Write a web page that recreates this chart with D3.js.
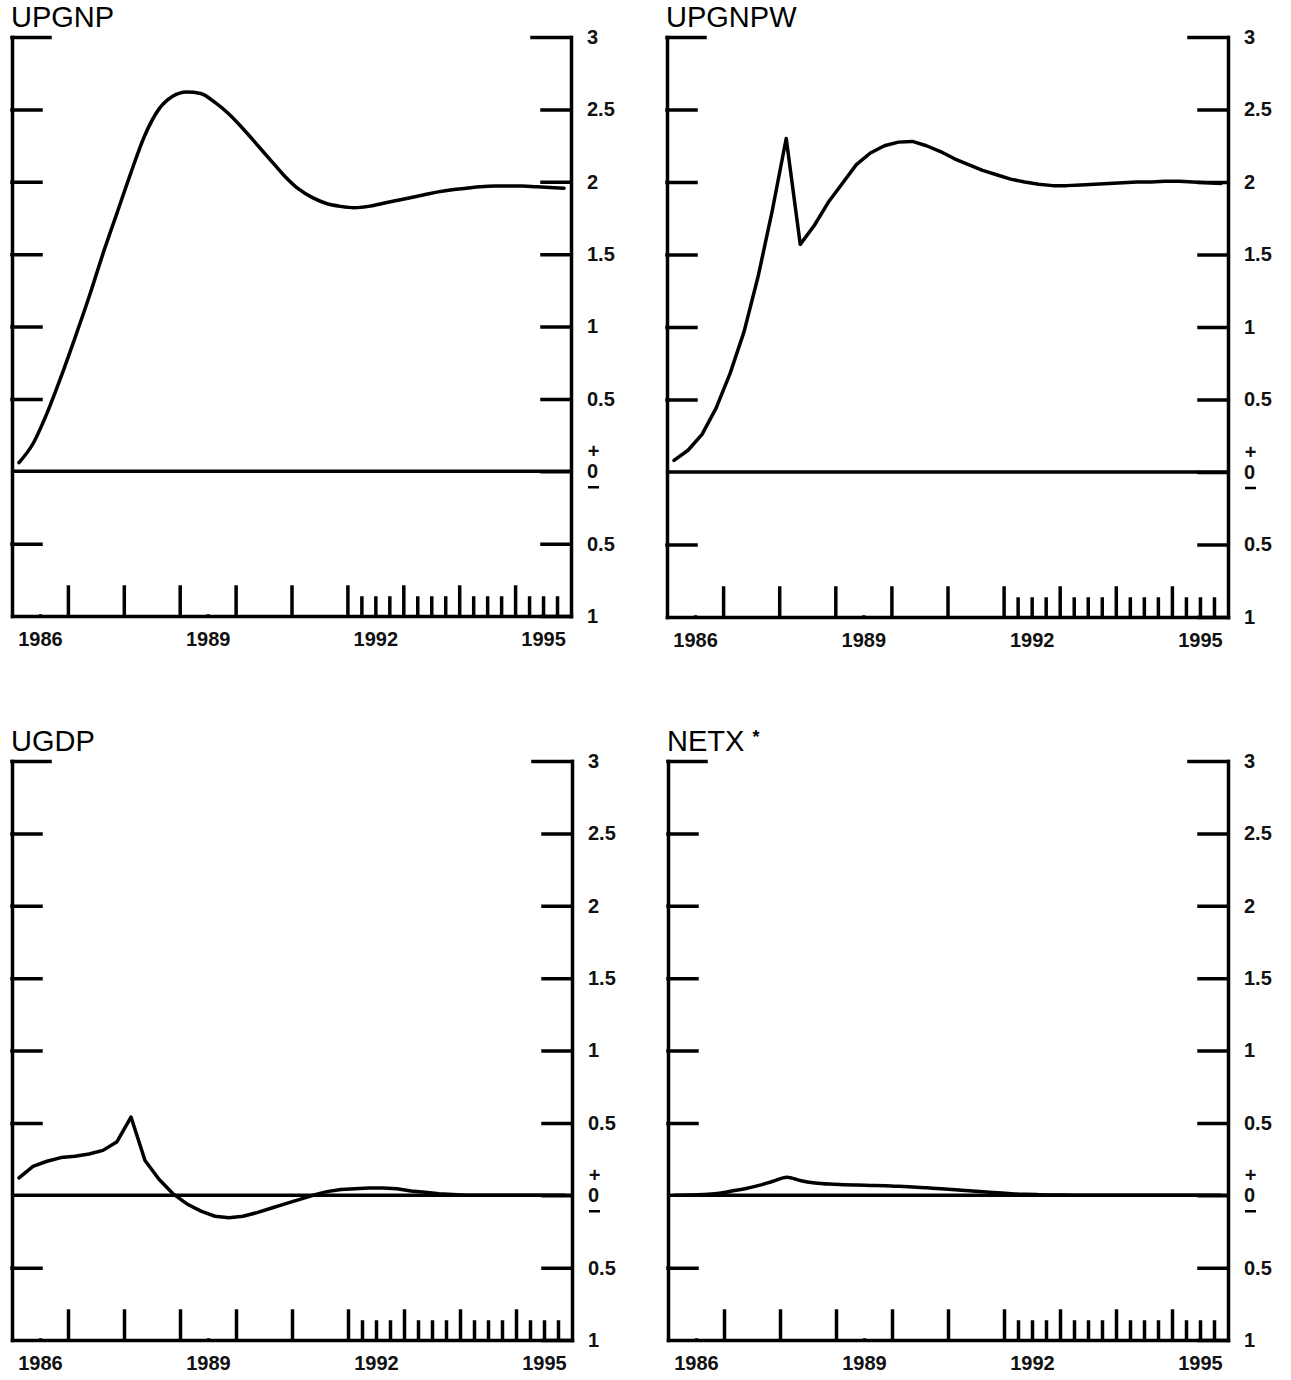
<!DOCTYPE html>
<html>
<head>
<meta charset="utf-8">
<script src="https://cdn.jsdelivr.net/npm/d3@7"></script>
<style>
  body { margin: 0; background: #fff; }
  svg { display: block; }
</style>
</head>
<body>
<div class="canvas"></div>
<script>
const font = '"Liberation Sans", Arial, Helvetica, sans-serif';

// quarterly observations 1986Q1 - 1995Q4, drawn at mid-quarter
const quarters = d3.range(1986, 1996, 0.25).map(q => q + 0.125);

const upgnp = [0.06, 0.19, 0.40, 0.65, 0.92, 1.20, 1.50, 1.78, 2.06, 2.32,
  2.50, 2.59, 2.62, 2.61, 2.55, 2.47, 2.37, 2.26, 2.15, 2.04,
  1.95, 1.89, 1.85, 1.83, 1.82, 1.83, 1.85, 1.87, 1.89, 1.91,
  1.93, 1.945, 1.955, 1.965, 1.97, 1.97, 1.97, 1.965, 1.96, 1.955];

const upgnpw = [0.08, 0.15, 0.26, 0.44, 0.68, 0.97, 1.35, 1.80, 2.30, 1.57,
  1.70, 1.86, 1.99, 2.12, 2.20, 2.25, 2.275, 2.28, 2.25, 2.21,
  2.16, 2.12, 2.08, 2.05, 2.02, 2.00, 1.985, 1.975, 1.975, 1.98,
  1.985, 1.99, 1.995, 2.0, 2.0, 2.005, 2.005, 2.0, 1.995, 1.99];

const ugdp = [0.12, 0.20, 0.235, 0.26, 0.27, 0.285, 0.31, 0.37, 0.54, 0.24,
  0.11, 0.01, -0.06, -0.11, -0.145, -0.155, -0.145, -0.12, -0.09, -0.06,
  -0.03, 0.0, 0.025, 0.04, 0.045, 0.05, 0.05, 0.045, 0.03, 0.02,
  0.01, 0.005, 0, 0, 0, 0, 0, 0, 0, 0];

const netx = [0, 0.002, 0.005, 0.012, 0.028, 0.045, 0.068, 0.097, 0.125, 0.10,
  0.085, 0.077, 0.073, 0.07, 0.068, 0.066, 0.062, 0.057, 0.051, 0.045,
  0.038, 0.031, 0.024, 0.017, 0.011, 0.007, 0.004, 0.002, 0.001, 0,
  0, 0, 0, 0, 0, 0, 0, 0, 0, 0];

// axis ticks and labels
const majorTicks = [1987, 1988, 1989, 1990, 1991, 1992, 1993, 1994, 1995];
const minorTicks = [1992.25, 1992.5, 1992.75, 1993.25, 1993.5, 1993.75,
  1994.25, 1994.5, 1994.75, 1995.25, 1995.5, 1995.75];
const labelYears = [1986, 1989, 1992, 1995];
const leftTicks = [-0.5, 0.5, 1, 1.5, 2, 2.5, 3];
const rightTicks = [-1, -0.5, 0, 0.5, 1, 1.5, 2, 2.5, 3];

const panels = [
  {title: 'UPGNP', values: upgnp, smooth: true, left: 12, right: 571, top: 37, bottom: 616},
  {title: 'UPGNPW', values: upgnpw, left: 667, right: 1228, top: 37, bottom: 617},
  {title: 'UGDP', values: ugdp, left: 12, right: 572, top: 761, bottom: 1340},
  {title: 'NETX', star: true, values: netx, smooth: true, left: 668, right: 1228, top: 761, bottom: 1340}
];

const svg = d3.select('.canvas')
    .append('svg')
    .attr('width', 1291)
    .attr('height', 1380)
    .style('font-family', font);

svg.append('rect').attr('width', 1291).attr('height', 1380).attr('fill', '#fff');

const styleAxis = (g) => {
  g.attr('font-family', font).attr('font-size', 20).attr('font-weight', 'bold');
  g.selectAll('path, line')
      .attr('stroke', '#000')
      .attr('stroke-width', 3.5)
      .attr('stroke-linecap', 'square');
  g.selectAll('text').attr('fill', '#111');
};

panels.forEach(p => {
  const x = d3.scaleLinear().domain([1986, 1996]).range([p.left, p.right]);
  const y = d3.scaleLinear().domain([-1, 3]).range([p.bottom, p.top]);
  const graph = svg.append('g');

  // left axis, ticks pointing inward
  const leftG = graph.append('g')
      .attr('transform', `translate(${p.left},0)`)
      .call(d3.axisRight(y).tickValues(leftTicks).tickSize(29).tickSizeOuter(0).tickFormat(''))
      .call(styleAxis);
  leftG.selectAll('.tick').filter(d => d === 3).select('line').attr('x2', 38);

  // right axis, ticks inward, labels outside
  const rightG = graph.append('g')
      .attr('transform', `translate(${p.right},0)`)
      .call(d3.axisRight(y).tickValues(rightTicks).tickSizeInner(-29).tickSizeOuter(0)
          .tickPadding(16).tickFormat(d => Math.abs(d)))
      .call(styleAxis);
  rightG.selectAll('.tick').filter(d => d === 3).select('line').attr('x2', -39);
  rightG.append('text').attr('x', 22.5).attr('y', y(0) - 13)
      .attr('text-anchor', 'middle').attr('font-size', 20).attr('fill', '#111').text('+');
  rightG.append('line')
      .attr('x1', 17).attr('x2', 28)
      .attr('y1', y(0) + 16).attr('y2', y(0) + 16)
      .attr('stroke', '#000').attr('stroke-width', 2.5);

  // bottom axis: yearly ticks, quarterly from 1992
  graph.append('g')
      .attr('transform', `translate(0,${p.bottom})`)
      .call(d3.axisTop(x).tickValues(majorTicks).tickSize(29).tickSizeOuter(0).tickFormat(''))
      .call(styleAxis);
  graph.append('g')
      .attr('transform', `translate(0,${p.bottom})`)
      .call(d3.axisTop(x).tickValues(minorTicks).tickSize(18).tickSizeOuter(0).tickFormat(''))
      .call(styleAxis)
      .call(g => g.select('.domain').remove());
  graph.append('g')
      .attr('transform', `translate(0,${p.bottom})`)
      .call(d3.axisBottom(x).tickValues(labelYears.map(d => d + 0.5)).tickSize(0)
          .tickPadding(16).tickFormat(d => Math.floor(d)))
      .call(styleAxis)
      .call(g => g.select('.domain').remove());

  // zero line
  graph.append('line')
      .attr('x1', x(1986)).attr('x2', x(1996))
      .attr('y1', y(0)).attr('y2', y(0))
      .attr('stroke', '#000').attr('stroke-width', 3.5);

  // series
  const line = d3.line()
      .curve(p.smooth ? d3.curveMonotoneX : d3.curveLinear)
      .x((d, i) => x(quarters[i]))
      .y(d => y(d));
  graph.append('path')
      .datum(p.values)
      .attr('fill', 'none')
      .attr('stroke', '#000')
      .attr('stroke-width', 3.5)
      .attr('stroke-linejoin', 'round')
      .attr('stroke-linecap', 'round')
      .attr('d', line);

  // title
  const title = graph.append('text')
      .attr('x', p.left - 1)
      .attr('y', p.top - 10)
      .attr('font-size', 29)
      .attr('fill', '#000')
      .text(p.title);
  if (p.star) {
    title.append('tspan').text(' ');
    title.append('tspan').attr('font-size', 18).attr('font-weight', 'bold').attr('dy', -8).text('*');
  }
});
</script>
</body>
</html>
